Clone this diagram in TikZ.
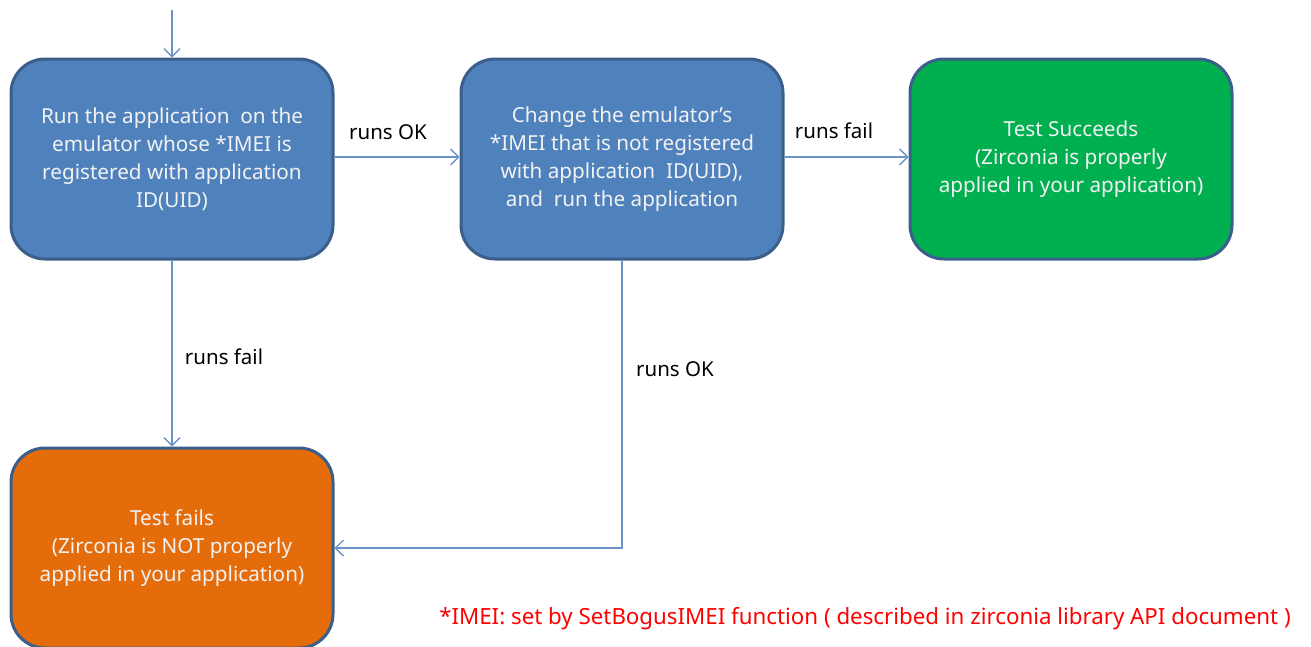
\documentclass[tikz,border=0pt]{standalone}
\usepackage{fontspec}
\setmainfont{Noto Sans}
\usetikzlibrary{arrows.meta}
\definecolor{boxblue}{HTML}{4F81BD}
\definecolor{boxgreen}{HTML}{00B050}
\definecolor{boxorange}{HTML}{E46C0A}
\definecolor{edgeblue}{HTML}{3B5F8A}
\definecolor{linkblue}{HTML}{6A93C8}
\definecolor{txtlight}{HTML}{F2F2F2}
\begin{document}
\begin{tikzpicture}[x=1pt,y=-1pt,
  box/.style={draw=edgeblue, line width=3pt, rounded corners=34pt, minimum width=322pt, minimum height=200pt,
    text=txtlight, align=center, font=\fontsize{20.7}{28}\selectfont, inner sep=0pt},
  link/.style={draw=linkblue, line width=1.4pt, -{Straight Barb[length=8pt,width=16pt,line width=1.4pt]}},
  lbl/.style={font=\fontsize{20.5}{22}\selectfont, text=black, inner sep=0pt}]
\useasboundingbox (0,0) rectangle (1311,646);
\node[box, fill=boxblue] (A) at (172,159) {Run the application\ \ on the\\emulator whose *IMEI is\\registered with application\\ID(UID)};
\node[box, fill=boxblue] (B) at (622,159) {Change the emulator's\\*IMEI that is not registered\\with application\ \ ID(UID),\\and\ \ run the application};
\node[box, fill=boxgreen] (C) at (1071,159) {Test Succeeds\\(Zirconia is properly\\applied in your application)};
\node[box, fill=boxorange] (D) at (172,548) {Test fails\\(Zirconia is NOT properly\\applied in your application)};
\coordinate (S) at (172,10);
\draw[link] (S) -- (A.north);
\draw[link] (A.east |- 0,157) -- (B.west |- 0,157);
\draw[link] (B.east |- 0,157) -- (C.west |- 0,157);
\draw[link] (A.south) -- (D.north);
\draw[link] (B.south) |- (D.east);
\node[lbl] (l1) at (388,132) {runs OK};
\node[lbl] (l2) at (834,131) {runs fail};
\node[lbl] (l3) at (224,357) {runs fail};
\node[lbl] (l4) at (675,369) {runs OK};
\node[font=\fontsize{22.3}{24}\selectfont, text=red, inner sep=0pt] (note) at (865,619) {*IMEI: set by SetBogusIMEI function ( described in zirconia library API document )};
\end{tikzpicture}
\end{document}
